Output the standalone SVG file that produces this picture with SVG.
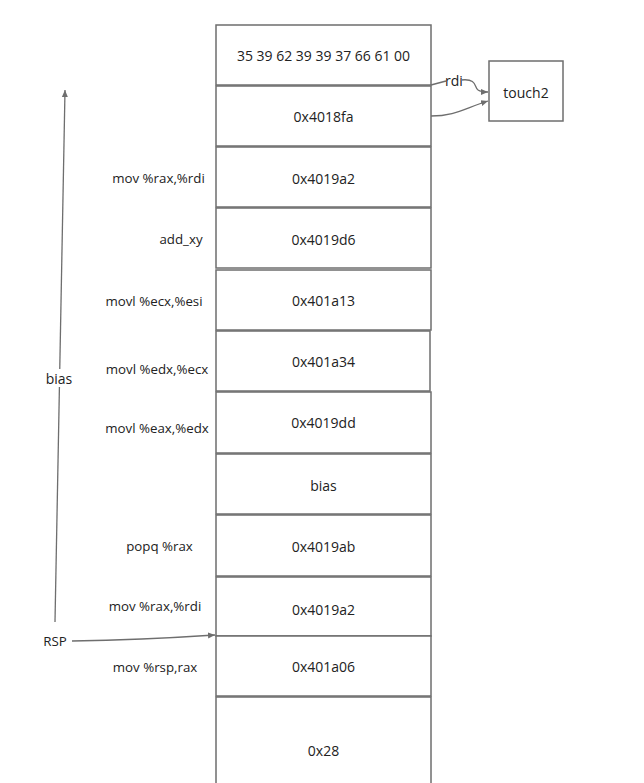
<svg xmlns="http://www.w3.org/2000/svg" width="644" height="783" viewBox="0 0 644 783">
<style>
.box{fill:#fff;stroke:#6e6e6e;stroke-width:1.5}
.t{font-family:"Open Sans","Noto Sans","Liberation Sans",sans-serif;font-size:14px;fill:#222;dominant-baseline:central}
.c{text-anchor:middle}
.l{font-size:13.3px;text-anchor:middle}
.ln{fill:none;stroke:#6e6e6e;stroke-width:1.3}
</style>
<defs>
<marker id="ah" markerWidth="8" markerHeight="8" refX="7" refY="4" orient="auto" markerUnits="userSpaceOnUse">
<path d="M0,1 L7,4 L0,7 z" fill="#6e6e6e"/>
</marker>
</defs>
<rect width="644" height="783" fill="#fff"/>
<g id="connectors">
<path class="ln" d="M55,622 L65,90" marker-end="url(#ah)"/>
<path class="ln" d="M72,641 Q140,640 215,635" marker-end="url(#ah)"/>
<path class="ln" d="M431,85 L446,81"/>
<path class="ln" d="M461,80 C478,78 474,88 478,90 C481,92 483,92 488,92" marker-end="url(#ah)"/>
<path class="ln" d="M431,116 C455,116 465,108 488,101" marker-end="url(#ah)"/>
<rect x="41" y="369" width="36" height="18" fill="#fff"/>
<text class="t c" x="59" y="378">bias</text>
<rect x="446" y="72" width="16" height="16" fill="#fff"/>
<text class="t" x="445" y="80">rdi</text>
</g>
<g id="n0"><rect class="box" x="216" y="25" width="215" height="60"/><text class="t c" x="323.5" y="55">35 39 62 39 39 37 66 61 00</text></g>
<g id="n1"><rect class="box" x="216" y="86" width="215" height="60"/><text class="t c" x="323.5" y="116">0x4018fa</text></g>
<g id="n2"><rect class="box" x="216" y="147" width="215" height="60"/><text class="t c" x="323.5" y="178">0x4019a2</text></g>
<g id="n3"><rect class="box" x="216" y="208" width="215" height="60"/><text class="t c" x="323.5" y="239">0x4019d6</text></g>
<g id="n4"><rect class="box" x="216" y="270" width="215" height="60"/><text class="t c" x="323.5" y="300">0x401a13</text></g>
<g id="n5"><rect class="box" x="216" y="331" width="214" height="60"/><text class="t c" x="323.5" y="361">0x401a34</text></g>
<g id="n6"><rect class="box" x="216" y="392" width="215" height="61"/><text class="t c" x="323.5" y="422">0x4019dd</text></g>
<g id="n7"><rect class="box" x="216" y="454" width="215" height="60"/><text class="t c" x="323.5" y="485">bias</text></g>
<g id="n8"><rect class="box" x="216" y="515" width="215" height="61"/><text class="t c" x="323.5" y="546">0x4019ab</text></g>
<g id="n9"><rect class="box" x="216" y="577" width="215" height="59"/><text class="t c" x="323.5" y="609">0x4019a2</text></g>
<g id="n10"><rect class="box" x="216" y="636" width="215" height="60"/><text class="t c" x="323.5" y="666">0x401a06</text></g>
<g id="n11"><rect class="box" x="216" y="697" width="215" height="100"/><text class="t c" x="323.5" y="750">0x28</text></g>
<g id="touch2"><rect class="box" x="489" y="61" width="74" height="60"/><text class="t c" x="526" y="92">touch2</text></g>
<g id="labels">
<text class="t l" x="158.5" y="178">mov %rax,%rdi</text>
<text class="t l" x="181" y="239">add_xy</text>
<text class="t l" x="154" y="301">movl %ecx,%esi</text>
<text class="t l" x="157" y="369">movl %edx,%ecx</text>
<text class="t l" x="157" y="428">movl %eax,%edx</text>
<text class="t l" x="159.5" y="546">popq %rax</text>
<text class="t l" x="155" y="606">mov %rax,%rdi</text>
<text class="t l" x="155" y="667">mov %rsp,rax</text>
<text class="t l" x="55" y="641">RSP</text>
</g>
</svg>
